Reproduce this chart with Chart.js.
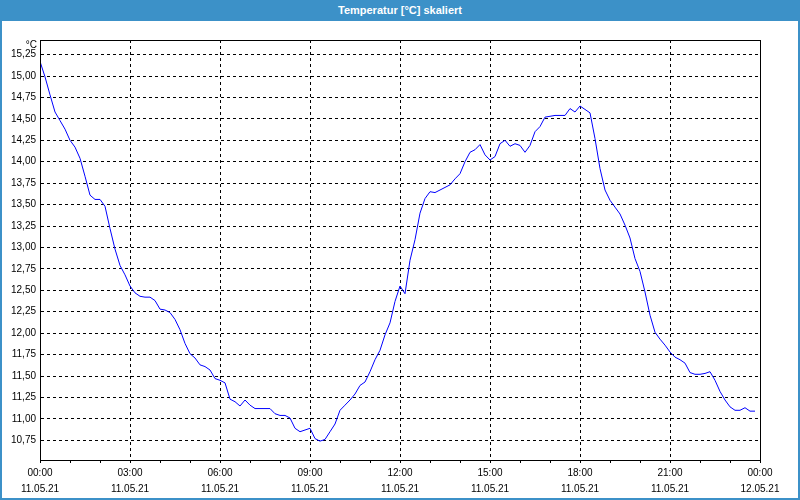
<!DOCTYPE html>
<html lang="de">
<head>
    <meta charset="UTF-8">
    <title>Temperatur [°C] skaliert</title>
    <script src="https://cdn.jsdelivr.net/npm/chart.js@4/dist/chart.umd.min.js"></script>
    <style>
        html, body {
            margin: 0;
            padding: 0;
            background: #ffffff;
        }
        .frame {
            position: relative;
            width: 800px;
            height: 500px;
            overflow: hidden;
            font-family: "Liberation Sans", Arial, sans-serif;
        }
        .titlebar {
            position: absolute;
            left: 0;
            top: 0;
            width: 800px;
            height: 21px;
            line-height: 20px;
            background: #3c91c8;
            color: #ffffff;
            font-weight: bold;
            font-size: 11px;
            text-align: center;
            z-index: 2;
        }
        .edge {
            position: absolute;
            left: 0;
            top: 0;
            width: 800px;
            height: 500px;
            box-sizing: border-box;
            border: 2px solid #3c91c8;
            pointer-events: none;
            z-index: 3;
        }
        #tempChart {
            position: absolute;
            left: 0;
            top: 0;
        }
    </style>
</head>
<body>
    <div class="frame">
        <div class="titlebar">Temperatur [°C] skaliert</div>
        <canvas id="tempChart" width="800" height="500"></canvas>
        <div class="edge"></div>
    </div>

    <script>
        // Messwerte 11.05.21 00:00 - 23:50, alle 10 Minuten
        const stepMinutes = 10;
        const temps = [
            15.17, 14.99, 14.78, 14.58, 14.48, 14.38, 14.25, 14.17, 14.04, 13.83,
            13.61, 13.56, 13.56, 13.48, 13.22, 12.98, 12.79, 12.68, 12.55, 12.47,
            12.43, 12.42, 12.42, 12.38, 12.28, 12.27, 12.24, 12.16, 12.04, 11.88,
            11.76, 11.71, 11.63, 11.61, 11.57, 11.47, 11.45, 11.42, 11.23, 11.20,
            11.15, 11.22, 11.16, 11.12, 11.12, 11.12, 11.12, 11.06, 11.04, 11.04,
            11.01, 10.89, 10.85, 10.87, 10.89, 10.77, 10.74, 10.76, 10.85, 10.94,
            11.10, 11.16, 11.22, 11.29, 11.39, 11.43, 11.55, 11.69, 11.80, 11.98,
            12.12, 12.37, 12.55, 12.46, 12.85, 13.09, 13.40, 13.57, 13.65, 13.64,
            13.67, 13.70, 13.73, 13.80, 13.86, 14.00, 14.11, 14.14, 14.20, 14.08,
            14.02, 14.06, 14.21, 14.25, 14.18, 14.21, 14.19, 14.11, 14.19, 14.35,
            14.41, 14.52, 14.53, 14.54, 14.54, 14.54, 14.62, 14.58, 14.65, 14.61,
            14.57, 14.27, 13.92, 13.67, 13.55, 13.47, 13.39, 13.26, 13.11, 12.87,
            12.72, 12.48, 12.21, 12.01, 11.93, 11.86, 11.78, 11.72, 11.69, 11.65,
            11.54, 11.52, 11.52, 11.53, 11.55, 11.45, 11.32, 11.22, 11.14, 11.10,
            11.10, 11.13, 11.09, 11.09
        ];

        // Achsenbeschriftung
        const timeTicks = ['00:00', '03:00', '06:00', '09:00', '12:00', '15:00', '18:00', '21:00', '00:00'];
        const dateTicks = ['11.05.21', '11.05.21', '11.05.21', '11.05.21', '11.05.21', '11.05.21', '11.05.21', '11.05.21', '12.05.21'];
        const yMin = 10.52;
        const yMax = 15.42;
        const yStep = 0.25;
        const unitLabel = '°C';

        const labelFont = { family: '"Liberation Sans", Arial, sans-serif', size: 10 };

        // Rahmen oben/rechts + Einheit
        const framePlugin = {
            id: 'frame',
            afterDraw(chart) {
                const a = chart.chartArea;
                const ctx = chart.ctx;
                ctx.save();
                ctx.setLineDash([]);
                ctx.strokeStyle = '#000';
                ctx.lineWidth = 1;
                ctx.strokeRect(Math.round(a.left) + 0.5, Math.round(a.top) + 0.5,
                    Math.round(a.right - a.left), Math.round(a.bottom - a.top));
                ctx.fillStyle = '#000';
                ctx.font = '10px "Liberation Sans", Arial, sans-serif';
                ctx.textAlign = 'right';
                ctx.textBaseline = 'middle';
                ctx.fillText(unitLabel, a.left - 3, a.top + 5);
                ctx.restore();
            }
        };

        const ctx = document.getElementById('tempChart').getContext('2d');
        new Chart(ctx, {
            type: 'line',
            data: {
                datasets: [{
                    data: temps.map((t, i) => ({ x: i * stepMinutes, y: t })),
                    borderColor: '#0000ff',
                    borderWidth: 1,
                    pointRadius: 0,
                    tension: 0,
                    fill: false
                }]
            },
            options: {
                responsive: false,
                animation: false,
                layout: { padding: { left: 0, top: 40, right: 40, bottom: 0 } },
                plugins: {
                    legend: { display: false },
                    tooltip: { enabled: false },
                    title: { display: false }
                },
                scales: {
                    x: {
                        type: 'linear',
                        min: 0,
                        max: 1440,
                        afterFit(scale) { scale.height = 40; },
                        afterBuildTicks(scale) {
                            const ticks = [];
                            for (let m = 0; m <= 1440; m += 60) ticks.push({ value: m });
                            scale.ticks = ticks;
                        },
                        ticks: {
                            autoSkip: false,
                            maxRotation: 0,
                            padding: 2,
                            color: '#000',
                            font: Object.assign({ lineHeight: '16px' }, labelFont),
                            callback(value) {
                                if (value % 180 !== 0) return '';
                                const i = value / 180;
                                return [timeTicks[i], dateTicks[i]];
                            }
                        },
                        grid: {
                            color: c => (c.tick && c.tick.value % 180 === 0) ? '#000' : 'rgba(0,0,0,0)',
                            lineWidth: 1,
                            drawTicks: true,
                            tickLength: 3,
                            tickColor: '#000',
                            tickBorderDash: []
                        },
                        border: { display: true, color: '#000', width: 1, dash: [3, 3] }
                    },
                    y: {
                        min: yMin,
                        max: yMax,
                        afterFit(scale) { scale.width = 40; },
                        afterBuildTicks(scale) {
                            scale.ticks = scale.ticks.filter(t =>
                                Math.abs(t.value / yStep - Math.round(t.value / yStep)) < 1e-6);
                        },
                        ticks: {
                            stepSize: yStep,
                            padding: 4,
                            color: '#000',
                            font: labelFont,
                            callback: v => v.toFixed(2).replace('.', ',')
                        },
                        grid: {
                            color: '#000',
                            lineWidth: 1,
                            drawTicks: false
                        },
                        border: { display: true, color: '#000', width: 1, dash: [3, 3] }
                    }
                }
            },
            plugins: [framePlugin]
        });
    </script>
</body>
</html>
